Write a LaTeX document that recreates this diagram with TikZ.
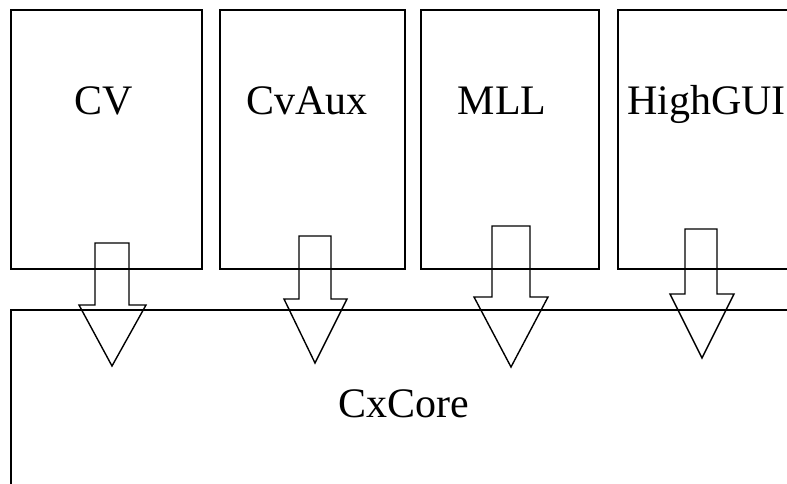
\documentclass[tikz,border=0pt]{standalone}
\usepackage{fontspec}
\setmainfont{Liberation Serif}
\usetikzlibrary{fit}
\tikzset{
  modbox/.style={draw=black, line width=1.4pt, inner sep=0pt},
  lbl/.style={font=\fontsize{42}{42}\selectfont, inner sep=0pt, anchor=base},
  blockarrow/.style={draw=black, line width=1.4pt, line join=miter}
}
\begin{document}
\begin{tikzpicture}[x=1pt,y=-1pt]
\useasboundingbox (0,0) rectangle (787,484);
\clip (0,0) rectangle (787,484);
\fill[white] (0,0) rectangle (787,484);
% module boxes
\coordinate (a1) at (11,10); \coordinate (a2) at (202,269);
\coordinate (b1) at (220,10); \coordinate (b2) at (405,269);
\coordinate (c1) at (421,10); \coordinate (c2) at (599,269);
\coordinate (d1) at (618,10); \coordinate (d2) at (800,269);
\coordinate (e1) at (11,310); \coordinate (e2) at (800,500);
\node[modbox, fit=(a1)(a2)] (cvbox) {};
\node[modbox, fit=(b1)(b2)] (auxbox) {};
\node[modbox, fit=(c1)(c2)] (mllbox) {};
\node[modbox, fit=(d1)(d2)] (guibox) {};
\node[modbox, fit=(e1)(e2)] (corebox) {};
% labels
\node[lbl] (cv) at (104,115) {CV};
\node[lbl] (aux) at (307,115) {CvAux};
\node[lbl] (mll) at (502,115) {MLL};
\node[lbl, anchor=base west] (gui) at (627,115) {HighGUI};
\node[lbl] (core) at (404,417) {CxCore};
% block arrows
\draw[blockarrow] (95,243) -- (129,243) -- (129,305) -- (146,305) -- (112,366) -- (79,305) -- (95,305) -- cycle;
\draw[blockarrow] (299,236) -- (331,236) -- (331,299) -- (347,299) -- (315,363) -- (284,299) -- (299,299) -- cycle;
\draw[blockarrow] (492,226) -- (530,226) -- (530,297) -- (548,297) -- (511,367) -- (474,297) -- (492,297) -- cycle;
\draw[blockarrow] (685,229) -- (717,229) -- (717,294) -- (734,294) -- (702,358) -- (670,294) -- (685,294) -- cycle;
\end{tikzpicture}
\end{document}
